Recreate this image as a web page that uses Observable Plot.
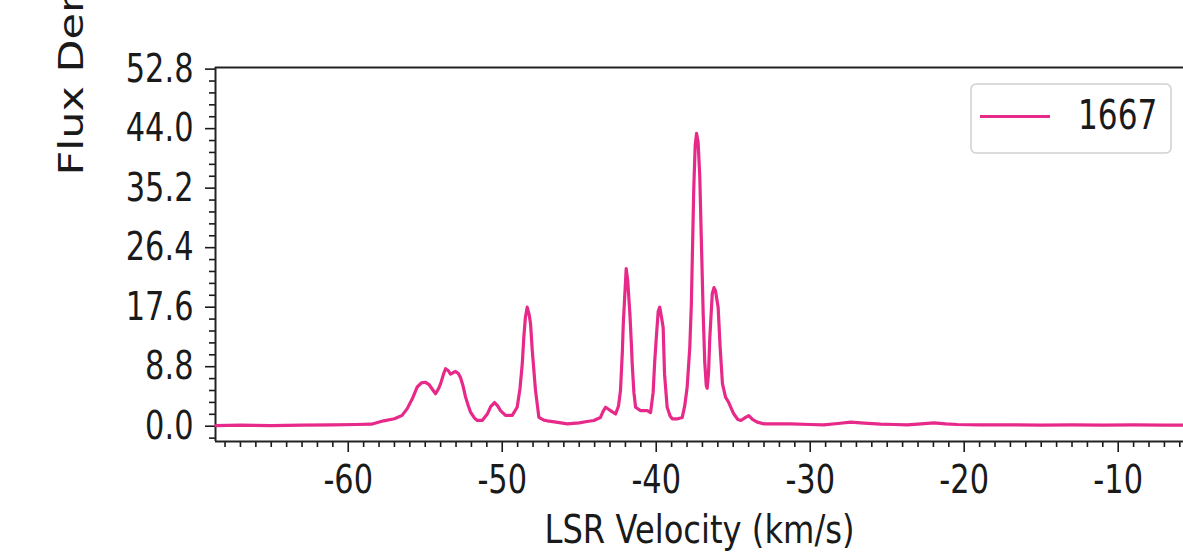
<!DOCTYPE html>
<html>
<head>
<meta charset="utf-8">
<script src="https://cdn.jsdelivr.net/npm/d3@7"></script>
<script src="https://cdn.jsdelivr.net/npm/@observablehq/plot@0.6"></script>
<style>
  html, body { margin: 0; padding: 0; background: white; }
  #chart svg { display: block; }
</style>
</head>
<body>
<div id="chart"></div>
<script>
// Spectrum (LSR velocity in km/s, flux density)
const velocity = [
  -68.6, -67, -65, -63, -61, -59.5, -58.5, -57.7, -57.0, -56.5, -56.17, -55.84, -55.52, -55.25, -55.0,
  -54.77, -54.55, -54.33, -54.15, -54.0, -53.8, -53.68, -53.5, -53.36, -53.2, -53.03, -52.85, -52.71,
  -52.55, -52.38, -52.2, -52.06, -51.8, -51.62, -51.3, -50.97, -50.75, -50.5, -50.3, -50.11, -49.79,
  -49.35, -49.03, -48.85, -48.7, -48.6, -48.5, -48.38, -48.25, -48.16, -48.05, -47.84, -47.62, -47.3,
  -47.08, -46.5, -45.78, -45.0, -44.5, -44.05, -43.62, -43.45, -43.29, -43.1, -42.97, -42.64, -42.45,
  -42.32, -42.2, -42.14, -42.05, -41.95, -41.85, -41.71, -41.6, -41.56, -41.45, -41.34, -41.02, -40.58,
  -40.37, -40.2, -40.1, -39.98, -39.87, -39.77, -39.65, -39.55, -39.46, -39.29, -39.1, -38.96, -38.6,
  -38.31, -38.15, -37.99, -37.82, -37.72, -37.66, -37.56, -37.47, -37.38, -37.28, -37.17, -37.08, -36.95,
  -36.85, -36.75, -36.69, -36.6, -36.52, -36.36, -36.25, -36.15, -35.98, -35.85, -35.7, -35.5, -35.29,
  -35.1, -34.96, -34.7, -34.5, -34.2, -33.99, -33.75, -33.44, -33.0, -32, -31.28, -30, -29.12, -28.2,
  -27.38, -26.5, -25.43, -24.5, -23.7, -22.8, -21.97, -21.2, -20.45, -19, -17, -15, -13, -11, -9, -7, -5.5
];
const flux = [
  0.1, 0.15, 0.1, 0.15, 0.2, 0.25, 0.3, 0.8, 1.1, 1.6, 2.6, 4.05, 5.8, 6.4, 6.5,
  6.2, 5.5, 4.8, 5.5, 6.3, 7.8, 8.5, 8.2, 7.7, 7.9, 8.1, 7.8, 7.2,
  6.0, 4.3, 3.0, 2.1, 1.2, 0.85, 0.85, 1.8, 2.9, 3.5, 3.0, 2.3, 1.6,
  1.6, 2.8, 5.5, 9.2, 13.1, 16.0, 17.6, 16.5, 15.1, 11.2, 5.3, 1.3, 0.9,
  0.8, 0.6, 0.35, 0.5, 0.7, 0.85, 1.3, 2.2, 2.8, 2.5, 2.3, 1.8, 3.0,
  5.3, 11.0, 15.1, 19.0, 23.3, 21.5, 16.6, 11.5, 9.2, 5.0, 2.8, 2.3, 2.3,
  2.0, 5.0, 9.5, 13.6, 17.0, 17.6, 16.0, 14.6, 7.7, 2.8, 1.5, 1.1, 1.1,
  1.3, 3.0, 5.8, 11.7, 18.0, 24.5, 35.3, 41.5, 43.3, 42.0, 36.8, 28.4, 16.6,
  9.5, 6.0, 5.6, 8.0, 13.1, 19.6, 20.5, 20.0, 17.6, 11.7, 6.3, 4.3, 3.5,
  2.5, 1.8, 1.0, 0.85, 1.3, 1.55, 1.0, 0.6, 0.35, 0.35, 0.35, 0.25, 0.2, 0.4,
  0.6, 0.45, 0.3, 0.25, 0.2, 0.35, 0.5, 0.35, 0.25, 0.2, 0.2, 0.15, 0.2, 0.15, 0.2, 0.15, 0.15
];
const seriesName = "1667";
const xTickValues = [-60, -50, -40, -30, -20, -10];
const yTickValues = [0.0, 8.8, 17.6, 26.4, 35.2, 44.0, 52.8];
const xLabel = "LSR Velocity (km/s)";
const yLabel = "Flux Density (Jy)";

const xDomain = [-68.62, -5.76];
const yDomain = [-2.26, 53.04];
const xMinor = d3.range(-68, -5, 1).filter(v => !xTickValues.includes(v));
const yMinor = d3.range(-1, 31).map(i => +(i * 1.76).toFixed(2)).filter(v => !yTickValues.some(t => Math.abs(t - v) < 1e-6));

const rows = velocity.map((v, i) => ({v, f: flux[i]}));
const lineColor = "#e7298a";
const ink = "#1a1a1a";

const chart = Plot.plot({
  width: 1183,
  height: 553,
  marginLeft: 215,
  marginTop: 67,
  marginRight: 0,
  marginBottom: 112,
  style: {fontFamily: "DejaVu Sans", fontSize: "39px", color: ink, background: "white", overflow: "visible"},
  x: {domain: xDomain},
  y: {domain: yDomain},
  marks: [
    Plot.axisX({ticks: xMinor, tickSize: 6, tickFormat: () => "", strokeWidth: 1.6, label: null}),
    Plot.axisX({ticks: xTickValues, tickSize: 11, tickPadding: 13, tickFormat: d => String(d), strokeWidth: 1.6, label: null}),
    Plot.axisY({ticks: yMinor, tickSize: 6, tickFormat: () => "", strokeWidth: 1.6, label: null}),
    Plot.axisY({ticks: yTickValues, tickSize: 10, tickPadding: 12, tickFormat: d => d.toFixed(1), strokeWidth: 1.6, label: null}),
    Plot.ruleY([yDomain[1]], {stroke: "#222", strokeWidth: 2}),
    Plot.ruleY([yDomain[0]], {stroke: "#222", strokeWidth: 2}),
    Plot.ruleX([xDomain[0]], {stroke: "#222", strokeWidth: 2}),
    Plot.line(rows, {x: "v", y: "f", stroke: lineColor, strokeWidth: 3.2, curve: "linear"}),
    Plot.text([xLabel], {text: d => d, frameAnchor: "bottom", lineAnchor: "top", dy: 74, fontSize: 39, fill: ink}),
    Plot.text([yLabel], {text: d => d, frameAnchor: "left", rotate: -90, textAnchor: "start", lineAnchor: "top", dx: -157, dy: -79, fontSize: 43, fill: ink})
  ]
});

// Legend inside the plot frame (top right)
const svg = d3.select(chart);
const frameRight = 1183;
const frameTop = 67;
const lg = svg.append("g").attr("class", "legend");
lg.append("rect")
  .attr("x", frameRight - 212).attr("y", frameTop + 17)
  .attr("width", 200).attr("height", 69).attr("rx", 5)
  .attr("fill", "white").attr("stroke", "#d0d0d0").attr("stroke-width", 1.5);
lg.append("line")
  .attr("x1", frameRight - 203).attr("x2", frameRight - 133)
  .attr("y1", frameTop + 49.5).attr("y2", frameTop + 49.5)
  .attr("stroke", lineColor).attr("stroke-width", 3.2);
lg.append("text")
  .attr("transform", `translate(${frameRight - 105},${frameTop + 48})`)
  .attr("dy", "0.36em")
  .attr("text-anchor", "start")
  .attr("font-family", "DejaVu Sans").attr("font-size", 40).attr("fill", ink)
  .text(seriesName);

// The reference's lettering is narrow: compress it horizontally
svg.selectAll("text").each(function () {
  const s = this.textContent || "";
  const t = this.getAttribute("transform") || "";
  if (s.startsWith("Flux")) {
    this.setAttribute("transform", t + " scale(1,0.8)");
  } else if (s.startsWith("LSR")) {
    this.setAttribute("transform", t + " scale(0.825,1)");
  } else {
    this.setAttribute("transform", t + " scale(0.78,1)");
  }
});

document.getElementById("chart").appendChild(chart);
</script>
</body>
</html>
